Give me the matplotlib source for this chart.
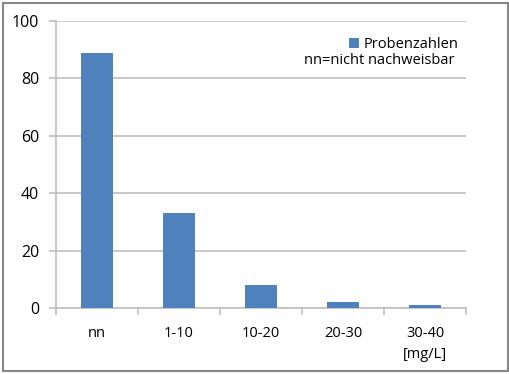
import matplotlib.pyplot as plt
from matplotlib.patches import Rectangle

categories = ["nn", "1-10", "10-20", "20-30", "30-40\n[mg/L]"]
counts = [89, 33, 8, 2, 1]
y_ticks = [0, 20, 40, 60, 80, 100]

BLUE = "#4F81BD"
GRID = "#BFBFBF"

plt.rcParams["font.family"] = ["Open Sans", "DejaVu Sans"]

W, H = 510, 374
fig = plt.figure(figsize=(W / 100, H / 100), dpi=100)
fig.patch.set_facecolor("white")

# outer chart border
fig.patches.append(Rectangle((3 / W, 3 / H), 505 / W, 368 / H, transform=fig.transFigure,
                             fill=False, edgecolor="#878787", linewidth=1.5))

ax = fig.add_axes([56 / W, (H - 308) / H, 410 / W, 287 / H])
x = range(len(categories))
bars = ax.bar(x, counts, width=0.39, color=BLUE, zorder=3, label="Probenzahlen")

ax.set_xlim(-0.5, len(categories) - 0.5)
ax.set_ylim(0, 100)
ax.set_yticks(y_ticks)
ax.set_xticks(x)
ax.set_xticklabels(categories, fontsize=10.5, linespacing=1.55)
ax.set_xticks([i - 0.5 for i in range(len(categories) + 1)], minor=True)
ax.tick_params(axis="x", which="major", length=0, pad=13)
ax.tick_params(axis="x", which="minor", length=5, color=GRID, width=1.2)
ax.tick_params(axis="y", length=5, color=GRID, width=1.2, labelsize=11.5, pad=7)
ax.grid(axis="y", color=GRID, linewidth=1.2, zorder=0)

for side in ["top", "right"]:
    ax.spines[side].set_visible(False)
for side in ["left", "bottom"]:
    ax.spines[side].set_color(GRID)
    ax.spines[side].set_linewidth(1.2)

leg = ax.legend(loc="upper right", bbox_to_anchor=(0.995, 0.965), frameon=False,
                fontsize=10.5, handlelength=0.7, handleheight=0.7, handletextpad=0.3,
                borderaxespad=0)
fig.text(455 / W, 1 - 60 / H, "nn=nicht nachweisbar", ha="right", va="center", fontsize=10.5)

fig.savefig("out.png", dpi=100)
